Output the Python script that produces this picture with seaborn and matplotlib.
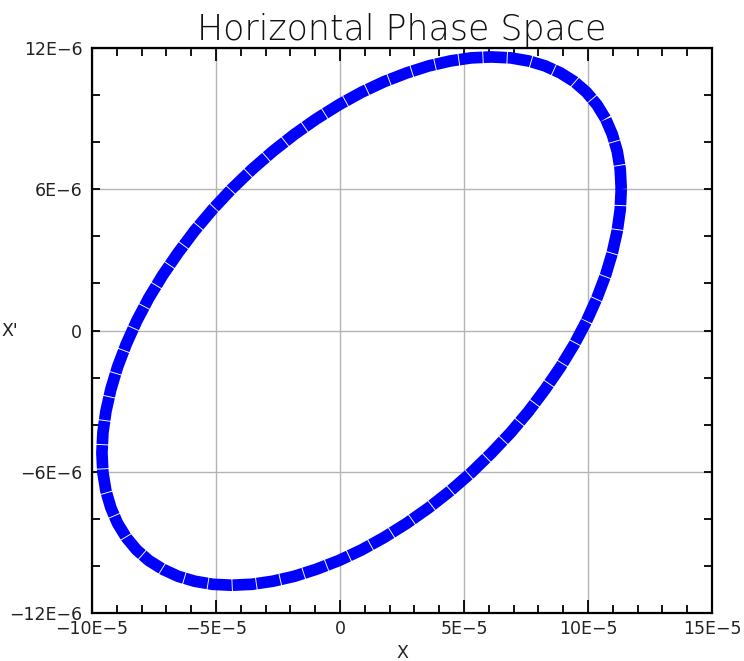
import matplotlib
matplotlib.use("Agg")
import matplotlib.pyplot as plt
import seaborn as sns
import pandas as pd
from matplotlib.ticker import FixedLocator, MultipleLocator

# Phase-space points (x in units of 1E-5, x' in units of 1E-6)
x_e5 = [11.34, 11.30, 11.18, 10.98, 10.71, 10.36, 9.94, 9.45, 8.89, 8.27, 7.60, 6.88,
        6.10, 5.29, 4.45, 3.58, 2.69, 1.78, 0.87, -0.04, -0.95, -1.84, -2.71, -3.55,
        -4.37, -5.14, -5.86, -6.53, -7.15, -7.71, -8.20, -8.62, -8.97, -9.24, -9.44, -9.56,
        -9.60, -9.56, -9.44, -9.24, -8.97, -8.62, -8.20, -7.71, -7.15, -6.53, -5.86, -5.14,
        -4.37, -3.55, -2.71, -1.84, -0.95, -0.04, 0.87, 1.78, 2.69, 3.58, 4.45, 5.29,
        6.10, 6.88, 7.60, 8.27, 8.89, 9.45, 9.94, 10.36, 10.71, 10.98, 11.18, 11.30, 11.34]
xp_e6 = [6.01, 6.84, 7.61, 8.33, 8.99, 9.59, 10.12, 10.57, 10.94, 11.24, 11.45, 11.58,
         11.62, 11.58, 11.45, 11.24, 10.94, 10.57, 10.12, 9.59, 8.99, 8.33, 7.61, 6.84,
         6.01, 5.14, 4.24, 3.30, 2.35, 1.38, 0.40, -0.58, -1.55, -2.50, -3.44, -4.34,
         -5.21, -6.04, -6.81, -7.53, -8.19, -8.79, -9.32, -9.77, -10.14, -10.44, -10.65, -10.78,
         -10.82, -10.78, -10.65, -10.44, -10.14, -9.77, -9.32, -8.79, -8.19, -7.53, -6.81, -6.04,
         -5.21, -4.34, -3.44, -2.50, -1.55, -0.58, 0.40, 1.38, 2.35, 3.30, 4.24, 5.14, 6.01]

x_ticks = [-10e-5, -5e-5, 0, 5e-5, 10e-5, 15e-5]
x_tick_labels = ["\u221210E\u22125", "\u22125E\u22125", "0", "5E\u22125", "10E\u22125", "15E\u22125"]
y_ticks = [-12e-6, -6e-6, 0, 6e-6, 12e-6]
y_tick_labels = ["\u221212E\u22126", "\u22126E\u22126", "0", "6E\u22126", "12E\u22126"]

title = "Horizontal Phase Space"
x_label = "X"
y_label = "X'"

df = pd.DataFrame({"x": [v * 1e-5 for v in x_e5], "xp": [v * 1e-6 for v in xp_e6]})

sns.set_theme(style="white")
plt.rcParams["font.family"] = ["DejaVu Sans"]

fig = plt.figure(figsize=(7.44, 6.61), dpi=100)
ax = fig.add_axes([92 / 744, 1 - 613 / 661, 620 / 744, 565 / 661])

sns.lineplot(data=df, x="x", y="xp", sort=False, estimator=None, color="#0000ff",
             linewidth=8.4, ax=ax, zorder=3)
ln = ax.lines[0]
ln.set_linestyle((0, (2.0, 0.08)))
ln.set_dash_capstyle("butt")

ax.set_xlim(-10e-5, 15e-5)
ax.set_ylim(-12e-6, 12e-6)
ax.xaxis.set_major_locator(FixedLocator(x_ticks))
ax.set_xticklabels(x_tick_labels)
ax.yaxis.set_major_locator(FixedLocator(y_ticks))
ax.set_yticklabels(y_tick_labels)
ax.xaxis.set_minor_locator(MultipleLocator(1e-5))
ax.yaxis.set_minor_locator(MultipleLocator(2e-6))

ax.grid(True, which="major", color="#b4b4b4", linewidth=1.0)
ax.set_axisbelow(True)

for s in ax.spines.values():
    s.set_visible(True)
    s.set_color("black")
    s.set_linewidth(1.6)

ax.tick_params(which="both", direction="in", top=True, right=True, bottom=True, left=True,
               color="black", width=1.3, labelsize=12.5, labelcolor="#222222")
ax.tick_params(axis="x", which="major", length=9.5, pad=5)
ax.tick_params(axis="x", which="minor", length=6)
ax.tick_params(axis="y", which="major", length=6, pad=7)
ax.tick_params(axis="y", which="minor", length=6)
for lbl in ax.get_yticklabels():
    lbl.set_verticalalignment("center_baseline")

ax.set_xlabel("")
ax.set_ylabel("")
fig.text(402 / 744, 1 - 653 / 661, x_label, ha="center", va="center", fontsize=12.5, color="#222222")
fig.text(1 / 744, 1 - 331 / 661, y_label, ha="left", va="center", fontsize=12.5, color="#222222")

fig.text(402 / 744, 1 - 40 / 661, title, ha="center", va="baseline", fontsize=25,
         fontweight="ultralight", family=["DejaVu Sans"], color="#111111")

fig.savefig("out.png", dpi=100)
